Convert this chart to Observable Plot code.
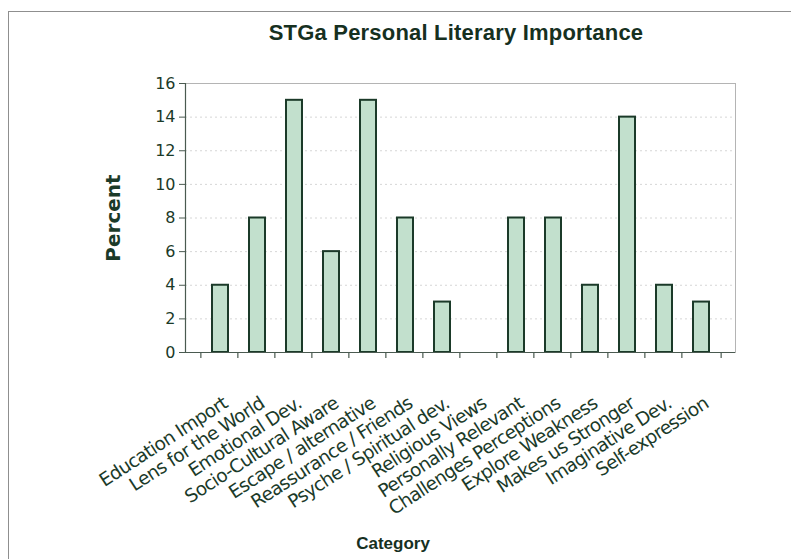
<!DOCTYPE html>
<html>
<head>
<meta charset="utf-8">
<script src="https://cdn.jsdelivr.net/npm/d3@7"></script>
<script src="https://cdn.jsdelivr.net/npm/@observablehq/plot@0.6"></script>
<style>
  html, body { margin: 0; padding: 0; background: #fff; }
  #chart { position: relative; width: 791px; height: 559px; overflow: hidden; }
  #border { position: absolute; left: 8px; top: 11px; width: 800px; height: 560px; border: 1px solid #8f8f8f; box-sizing: border-box; }
  #title { position: absolute; left: 0; width: 912px; top: 20px; text-align: center;
           font: bold 22px "Liberation Sans", Arial, sans-serif; letter-spacing: 0.2px; color: #16301f; }
  #xlabel { position: absolute; left: 0; width: 786px; top: 534px; text-align: center;
            font: bold 17px "Liberation Sans", Arial, sans-serif; letter-spacing: 0px; color: #16301f; }
  svg { position: absolute; left: 0; top: 0; }
</style>
</head>
<body>
<div id="chart">
  <div id="border"></div>
  <div id="title">STGa Personal Literary Importance</div>
  <div id="xlabel">Category</div>
</div>
<script>
// Share of respondents naming each reason as personally important
const categories = [
  "Education Import", "Lens for the World", "Emotional Dev.", "Socio-Cultural Aware",
  "Escape / alternative", "Reassurance / Friends", "Psyche / Spiritual dev.", "Religious Views",
  "Personally Relevant", "Challenges Perceptions", "Explore Weakness", "Makes us Stronger",
  "Imaginative Dev.", "Self-expression"
];
const percents = [4, 8, 15, 6, 15, 8, 3, 0, 8, 8, 4, 14, 4, 3];
const yTicks = [0, 2, 4, 6, 8, 10, 12, 14, 16];

const data = categories.map((c, i) => ({category: c, value: percents[i]}));

const ink = "#1b3a29";
const axisInk = "#4a5a50";
const W = 791, ML = 185, MR = 56;
const half = (W - ML - MR) / categories.length / 2; // half a category band, in px

const chart = Plot.plot({
  width: W,
  height: 559,
  marginLeft: ML,
  marginRight: MR,
  marginTop: 83,
  marginBottom: 207,
  style: {fontFamily: "'DejaVu Sans', Verdana, sans-serif", color: ink, background: "transparent"},
  x: {domain: categories, padding: 0.57, align: 0.5, axis: null},
  y: {domain: [0, 16], ticks: yTicks},
  marks: [
    Plot.gridY(yTicks.slice(1, -1), {stroke: "#d6d6d6", strokeOpacity: 1, strokeDasharray: "2,3"}),
    Plot.frame({stroke: "#b4b4b4"}),
    Plot.barY(data, {x: "category", y: "value", fill: "#c2e0cd", stroke: ink, strokeWidth: 2}),
    Plot.ruleY([0], {stroke: axisInk, strokeWidth: 1.2}),
    Plot.frame({anchor: "left", stroke: axisInk, strokeWidth: 1.2}),
    // tick marks on the category boundaries, below the baseline
    Plot.ruleX(categories, {x: d => d, dx: -half, y1: 0, y2: -0.36, stroke: axisInk, strokeWidth: 1.2}),
    Plot.ruleX(categories.slice(-1), {x: d => d, dx: half, y1: 0, y2: -0.36, stroke: axisInk, strokeWidth: 1.2}),
    Plot.axisY(yTicks, {tickSize: 6, tickPadding: 4, fontSize: 16, stroke: axisInk,
      label: "Percent", labelAnchor: "center", labelOffset: 80, labelArrow: "none"}),
    Plot.text(categories, {x: d => d, frameAnchor: "bottom", dx: 5, dy: 49, rotate: -33,
      textAnchor: "end", lineAnchor: "middle", fontSize: 18.5, fill: ink})
  ]
});
chart.querySelectorAll("[aria-label='y-axis label'] text, [aria-label='y-axis label']").forEach(t => {
  t.setAttribute("font-weight", "bold");
  t.setAttribute("font-size", "20");
});
chart.querySelectorAll("[aria-label='text'] text").forEach(t => t.style.letterSpacing = "-0.7px");
document.getElementById("chart").appendChild(chart);
</script>
</body>
</html>
